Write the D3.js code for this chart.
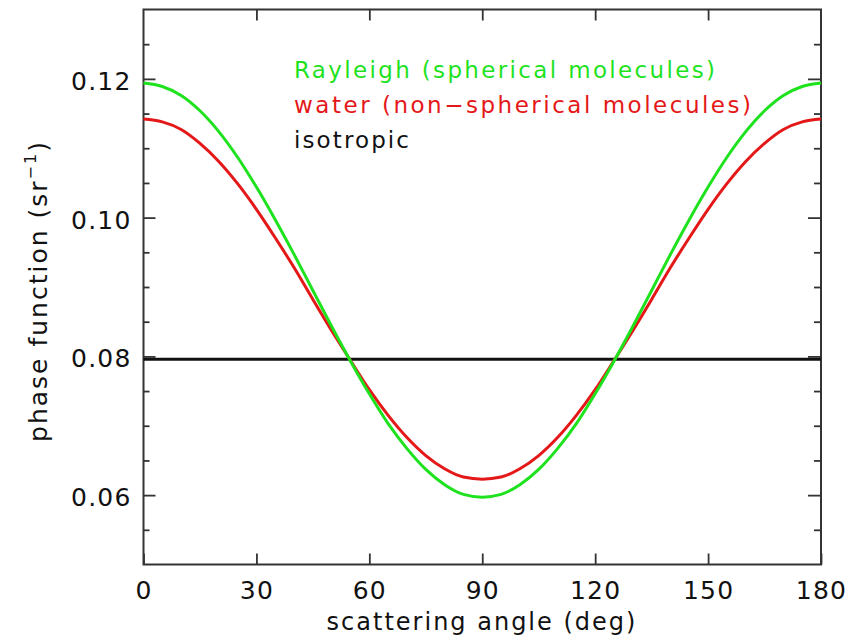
<!DOCTYPE html>
<html>
<head>
<meta charset="utf-8">
<script src="https://cdn.jsdelivr.net/npm/d3@7"></script>
<style>
  body { margin: 0; background: #fff; }
  text { font-family: "DejaVu Sans", sans-serif; fill: #111; }
</style>
</head>
<body>
<div id="chart"></div>
<script>
// scattering angle, deg
var angle = [0,5,10,15,20,25,30,35,40,45,50,55,60,65,70,75,80,85,90,
  95,100,105,110,115,120,125,130,135,140,145,150,155,160,165,170,175,180]

// phase function values (sr^-1)
var rayleigh = [0.1194,0.1189,0.1176,0.1154,0.1124,0.1087,0.1044,0.0997,0.0947,0.0895,
  0.0843,0.0793,0.0746,0.0703,0.0667,0.0637,0.0615,0.0601,0.0597,
  0.0601,0.0615,0.0637,0.0667,0.0703,0.0746,0.0793,0.0843,0.0895,0.0947,0.0997,
  0.1044,0.1087,0.1124,0.1154,0.1176,0.1189,0.1194]
var water = [0.1142,0.1138,0.1127,0.1107,0.1081,0.1049,0.1012,0.0971,0.0928,0.0882,
  0.0837,0.0794,0.0752,0.0715,0.0683,0.0657,0.0638,0.0626,0.0623,
  0.0626,0.0638,0.0657,0.0683,0.0715,0.0752,0.0794,0.0837,0.0882,0.0928,0.0971,
  0.1012,0.1049,0.1081,0.1107,0.1127,0.1138,0.1142]
var isotropic = [0.0796, 0.0796]
var isoAngle = [0, 180]

var xTicks = [0, 30, 60, 90, 120, 150, 180]
var yTicks = [0.06, 0.08, 0.10, 0.12]
var yMinor = [0.055,0.065,0.07,0.075,0.085,0.09,0.095,0.105,0.11,0.115,0.125]

var legend = ['Rayleigh (spherical molecules)', 'water (non\u2212spherical molecules)', 'isotropic']
var colors = ['#1fe21f', '#e41818', '#111']

var W = 853, H = 640
var svg = d3.select('#chart').append('svg').attr('width', W).attr('height', H)

var x = d3.scaleLinear().domain([0, 180]).range([143.5, 821])
var y = d3.scaleLinear().domain([0.05, 0.13]).range([564.5, 9.5])

// axes, ticks point inward on all four sides
function styleAx(g){
  g.select('.domain').remove()
  g.selectAll('line').attr('stroke', '#333').attr('stroke-width', 1.8)
  g.selectAll('text').attr('fill', '#111').attr('font-size', 25)
    .attr('font-family', '"DejaVu Sans", sans-serif').attr('letter-spacing', 1.2)
}

svg.append('g').attr('transform', 'translate(0,' + y.range()[0] + ')')
  .call(d3.axisBottom(x).tickValues(xTicks).tickSize(-11).tickPadding(17).tickFormat(d3.format('d')))
  .call(styleAx)
svg.append('g').attr('transform', 'translate(0,' + y.range()[1] + ')')
  .call(d3.axisTop(x).tickValues(xTicks.slice(1, -1)).tickSize(-11).tickFormat(''))
  .call(styleAx)

svg.append('g').attr('transform', 'translate(' + x.range()[0] + ',0)')
  .call(d3.axisLeft(y).tickValues(yTicks).tickSize(-12).tickPadding(12).tickFormat(d3.format('.2f')))
  .call(styleAx)
  .selectAll('text').attr('dy', '0.42em')
svg.append('g').attr('transform', 'translate(' + x.range()[0] + ',0)')
  .call(d3.axisLeft(y).tickValues(yMinor).tickSize(-6).tickFormat(''))
  .call(styleAx)
svg.append('g').attr('transform', 'translate(' + x.range()[1] + ',0)')
  .call(d3.axisRight(y).tickValues(yTicks).tickSize(-13).tickFormat(''))
  .call(styleAx)
svg.append('g').attr('transform', 'translate(' + x.range()[1] + ',0)')
  .call(d3.axisRight(y).tickValues(yMinor).tickSize(-7).tickFormat(''))
  .call(styleAx)

// frame
svg.append('rect')
  .attr('x', x.range()[0]).attr('y', y.range()[1])
  .attr('width', x.range()[1] - x.range()[0]).attr('height', y.range()[0] - y.range()[1])
  .attr('fill', 'none').attr('stroke', '#333').attr('stroke-width', 2)

// curves
var line = d3.line()
  .x(function(d){ return x(d[0]) })
  .y(function(d){ return y(d[1]) })
  .curve(d3.curveMonotoneX)

var series = [d3.zip(angle, rayleigh), d3.zip(angle, water), d3.zip(isoAngle, isotropic)]
// draw isotropic first so the coloured curves sit on top
;[2, 1, 0].forEach(function(i){
  svg.append('path').attr('d', line(series[i]))
    .attr('fill', 'none').attr('stroke', colors[i]).attr('stroke-width', 3)
})

// legend text
var legX = 294, legY = [78, 113, 148], legW = [421, 457, 115]
legend.forEach(function(t, i){
  svg.append('text').attr('x', legX).attr('y', legY[i])
    .attr('font-size', 23).style('fill', colors[i])
    .attr('textLength', legW[i]).attr('lengthAdjust', 'spacing')
    .text(t)
})

// axis titles
svg.append('text').attr('x', 482).attr('y', 630)
  .attr('text-anchor', 'middle').attr('font-size', 24).attr('letter-spacing', 2)
  .text('scattering angle (deg)')

var yl = svg.append('text').attr('transform', 'translate(47,291) rotate(-90)')
  .attr('text-anchor', 'middle').attr('font-size', 25).attr('letter-spacing', 2)
yl.append('tspan').text('phase function (sr')
yl.append('tspan').attr('font-size', 16).attr('dy', -11).text('\u22121')
yl.append('tspan').attr('dy', 11).text(')')
</script>
</body>
</html>
